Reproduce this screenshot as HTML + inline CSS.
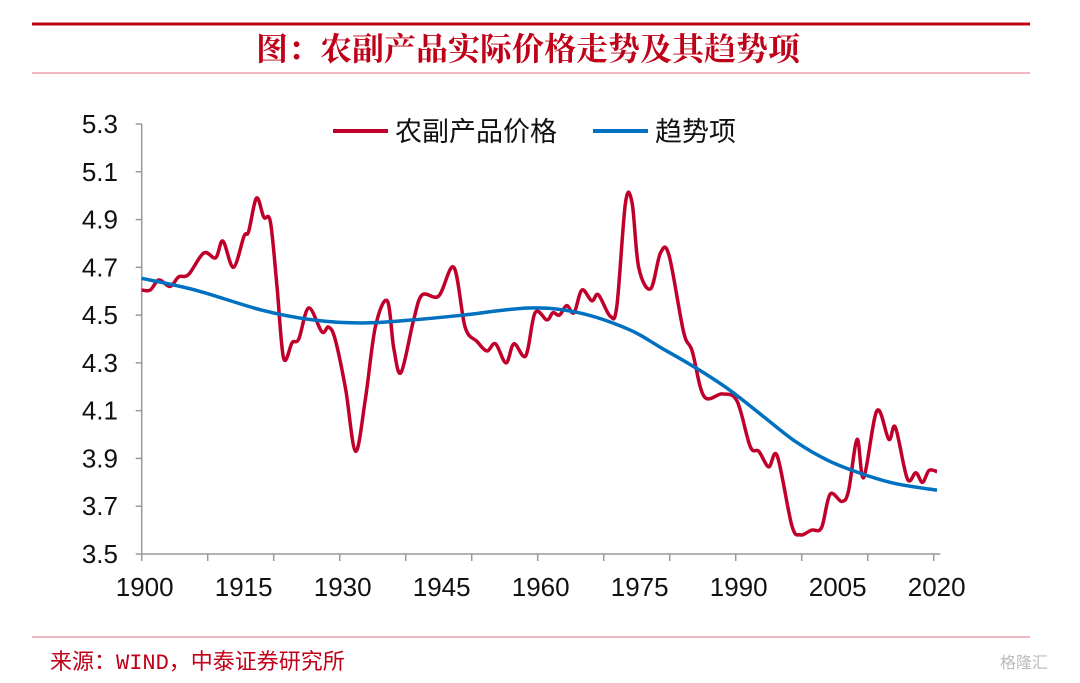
<!DOCTYPE html>
<html><head><meta charset="utf-8"><style>
body{margin:0;background:#fff;}
svg{display:block;font-family:"Liberation Sans","Noto Sans CJK SC",sans-serif;}
</style></head><body>
<svg id="chart" width="1080" height="683">
<line x1="32" y1="24" x2="1030" y2="24" stroke="#c00018" stroke-width="3"/>
<text x="528" y="60" text-anchor="middle" font-size="32" font-weight="bold" fill="#c00018" font-family="'Noto Serif CJK SC',serif">图：农副产品实际价格走势及其趋势项</text>
<line x1="32" y1="73" x2="1030" y2="73" stroke="#e07080" stroke-width="1"/>
<g id="axes"></g>
<g id="series"></g>
<g>
<line x1="333" y1="131" x2="388" y2="131" stroke="#c0002b" stroke-width="4"/>
<text x="395" y="141" font-size="27" fill="#111" font-family="'Noto Sans CJK SC',sans-serif">农副产品价格</text>
<line x1="593" y1="131" x2="648" y2="131" stroke="#0070c0" stroke-width="4"/>
<text x="655" y="141" font-size="27" fill="#111" font-family="'Noto Sans CJK SC',sans-serif">趋势项</text>
</g>
<line x1="32" y1="637" x2="1030" y2="637" stroke="#e07080" stroke-width="1"/>
<text x="50" y="669" font-size="22" fill="#c00018" font-family="'Liberation Mono','Noto Sans CJK SC',monospace">来源：WIND，中泰证券研究所</text>
<text x="1000" y="668" font-size="16" fill="#bbb" font-family="'Noto Sans CJK SC',sans-serif">格隆汇</text>
</svg>
<script>
const priceYears=[1900,1901.3,1902.6,1904.3,1905.6,1907.1,1909.4,1911.2,1912.3,1913.9,1915.5,1916.2,1917.4,1918.5,1919.5,1920.5,1921.5,1922.8,1923.8,1925.3,1927.3,1928.3,1929.3,1930.9,1932.4,1933.9,1935.4,1937.2,1938.2,1939.3,1941.2,1942.5,1945,1947.3,1949,1950.8,1952.3,1953.6,1955.2,1956.4,1958.2,1959.6,1961.4,1962.3,1963.3,1964.4,1965.5,1966.7,1968.2,1969.2,1971,1972,1973.3,1974.3,1975.3,1977.1,1978.6,1979.9,1982.1,1983.4,1985.2,1988,1990.2,1992.2,1993.5,1995,1996.3,1998.5,1999.8,2001.5,2003,2004.3,2006.1,2007.1,2008.4,2009.4,2011.4,2013.2,2014.2,2016,2017.3,2018.3,2019.3,2020.5];
const priceValues=[4.605,4.605,4.647,4.62,4.66,4.67,4.76,4.74,4.81,4.70,4.83,4.85,4.99,4.91,4.89,4.62,4.32,4.385,4.40,4.53,4.43,4.45,4.40,4.19,3.93,4.15,4.45,4.56,4.36,4.26,4.48,4.585,4.58,4.70,4.45,4.39,4.35,4.38,4.30,4.38,4.33,4.51,4.48,4.51,4.50,4.54,4.51,4.605,4.56,4.585,4.495,4.54,4.97,4.97,4.70,4.61,4.76,4.75,4.43,4.35,4.16,4.17,4.14,3.95,3.93,3.865,3.91,3.62,3.58,3.60,3.61,3.75,3.72,3.765,3.98,3.82,4.10,3.98,4.03,3.815,3.84,3.80,3.85,3.845];
const trendYears=[1900,1908.1,1918.3,1925.9,1933.5,1941.1,1948.7,1958.7,1966.2,1973.8,1978.9,1983.9,1988.9,1994,1999.1,2004.1,2009.2,2014.2,2020.5];
const trendValues=[4.654,4.605,4.52,4.48,4.467,4.48,4.50,4.53,4.51,4.44,4.36,4.28,4.19,4.08,3.97,3.89,3.835,3.795,3.767];
const yTicks=[3.5,3.7,3.9,4.1,4.3,4.5,4.7,4.9,5.1,5.3];
const xLabels=[1900,1915,1930,1945,1960,1975,1990,2005,2020];
const xTicks=[1900,1910,1920,1930,1940,1950,1960,1970,1980,1990,2000,2010,2020];
const NS="http://www.w3.org/2000/svg";
const X0=141.7,Y0=554,YT=124;
const sx=y=>X0+(y-1900)*6.6;
const sy=v=>Y0-(v-3.5)/1.8*(Y0-YT);
function mk(tag,attrs,parent){const e=document.createElementNS(NS,tag);for(const k in attrs)e.setAttribute(k,attrs[k]);parent.appendChild(e);return e;}
const ax=document.getElementById('axes');
let e=mk('line',{x1:X0,y1:YT,x2:X0,y2:Y0,stroke:'#999','stroke-width':1.5},ax);


e=mk('line',{x1:X0,y1:Y0,x2:sx(2021),y2:Y0,stroke:'#999','stroke-width':1.5},ax);


yTicks.forEach(v=>{
 let t=mk('line',{x1:X0-6,y1:sy(v),x2:X0,y2:sy(v),stroke:'#999','stroke-width':1.5},ax);
 
 
 let l=mk('text',{x:118,y:sy(v)+9,'text-anchor':'end','font-size':26,fill:'#111'},ax);
 l.textContent=v.toFixed(1);
 
 
});
xTicks.forEach(y=>{
 let t=mk('line',{x1:sx(y),y1:Y0,x2:sx(y),y2:Y0+7,stroke:'#999','stroke-width':1.5},ax);
 
 
});
xLabels.forEach(y=>{
 let l=mk('text',{x:sx(y)+3,y:596,'text-anchor':'middle','font-size':26,fill:'#111'},ax);
 l.textContent=y;
 
 
});
function smooth(xs,vs){
 const p=xs.map((x,i)=>[sx(x),sy(vs[i])]);
 let d='M'+p[0][0]+','+p[0][1];
 for(let i=0;i<p.length-1;i++){
  const a=p[Math.max(0,i-1)],b=p[i],c=p[i+1],n=p[Math.min(p.length-1,i+2)];
  const c1=[b[0]+(c[0]-a[0])/6,b[1]+(c[1]-a[1])/6],c2=[c[0]-(n[0]-b[0])/6,c[1]-(n[1]-b[1])/6];
  d+=` C${c1[0]},${c1[1]} ${c2[0]},${c2[1]} ${c[0]},${c[1]}`;
 }
 return d;
}
const sg=document.getElementById('series');
let pr=mk('path',{d:smooth(priceYears,priceValues),fill:'none',stroke:'#c0002b','stroke-width':3.5,'stroke-linejoin':'round'},sg);


let tr=mk('path',{d:smooth(trendYears,trendValues),fill:'none',stroke:'#0070c0','stroke-width':3.5},sg);


</script>
</body></html>
